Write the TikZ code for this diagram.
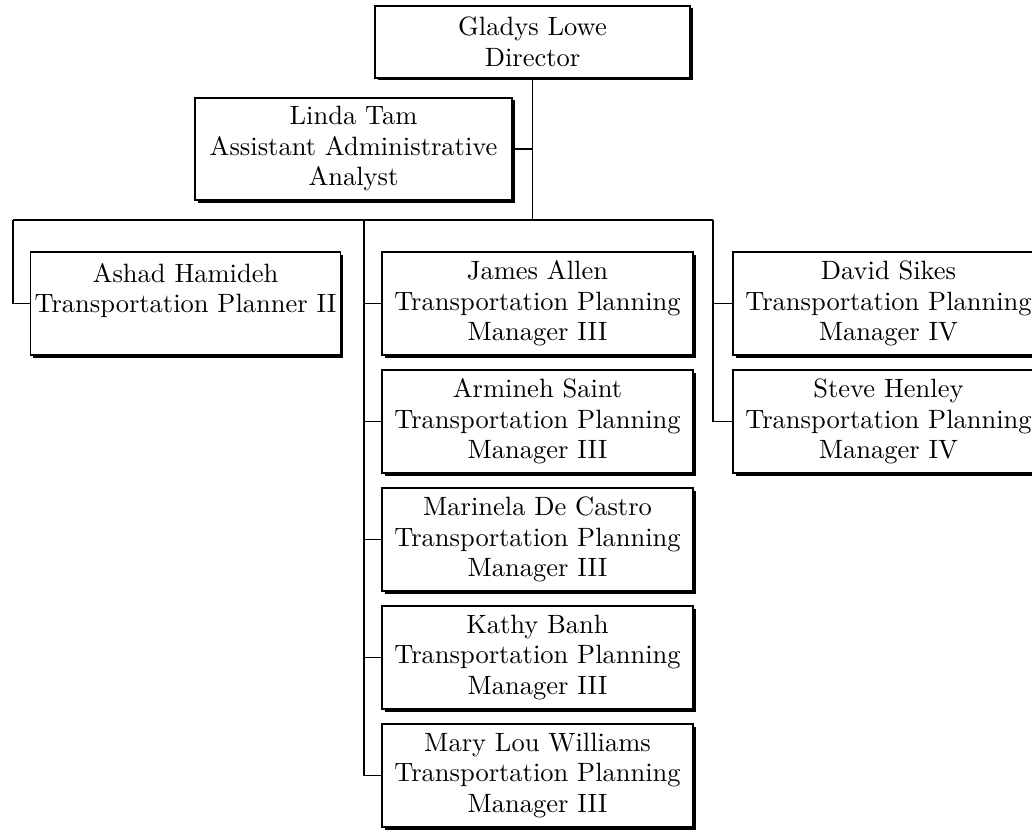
\documentclass[tikz,border=0pt]{standalone}
\usepackage{fontspec}
\usetikzlibrary{shadows}
\newfontfamily\orgfont{lmroman10-regular.otf}

\tikzset{
    person/.style={draw, line width=1.5pt, fill=white, align=center, inner sep=0pt,
        minimum width=311pt, minimum height=103pt,
        font=\orgfont\fontsize{26.5}{30.5}\selectfont,
        drop shadow={shadow xshift=2.5pt, shadow yshift=-2.5pt, fill=black, opacity=1}},
    link/.style={line width=1.3pt}
}

\begin{document}
\begin{tikzpicture}[
    x=1pt, y=-1pt
 ]
\def\yBus{220}
\def\xMid{537.5}
\def\yTop{303.5}
\def\yStep{118}
\useasboundingbox (0,0) rectangle (1032,829);
\clip (0,0) rectangle (1032,829);

    \node[person, minimum width=315pt, minimum height=72pt] (dir) at (532.5,42) {Gladys Lowe\\Director};
    \node[person, minimum width=317pt, minimum height=102pt] (lin) at (353.5,149) {Linda Tam\\Assistant Administrative\\Analyst};
    \node[person, minimum width=310pt] (ash) at (185.5,\yTop) {Ashad Hamideh\\Transportation Planner II\\\mbox{}};

    \foreach \who [count=\k from 0] in {James Allen, Armineh Saint, Marinela De Castro, Kathy Banh, Mary Lou Williams} {
        \node[person] (m\k) at (\xMid,\yTop+\k*\yStep) {\who\\Transportation Planning\\Manager III};
    }
    \foreach \who [count=\k from 0] in {David Sikes, Steve Henley} {
        \node[person] (r\k) at (888.5,\yTop+\k*\yStep) {\who\\Transportation Planning\\Manager IV};
    }

\coordinate (busL) at (13,\yBus);
\coordinate (busM) at (364,\yBus);
\coordinate (busR) at (713,\yBus);

\draw[link] (dir.south) -- (dir.south |- busL);
\draw[link] (lin.east) -- (lin.east -| dir.south);
\draw[link] (busL) -- (busR);
\draw[link] (busL) |- (ash.west);
\draw[link] (busM) |- (m4.west);
\foreach \k in {0,...,3} {
    \draw[link] (m\k.west -| busM) -- (m\k.west);
}
\draw[link] (busR) |- (r1.west);
\draw[link] (r0.west -| busR) -- (r0.west);

\end{tikzpicture}
\end{document}
